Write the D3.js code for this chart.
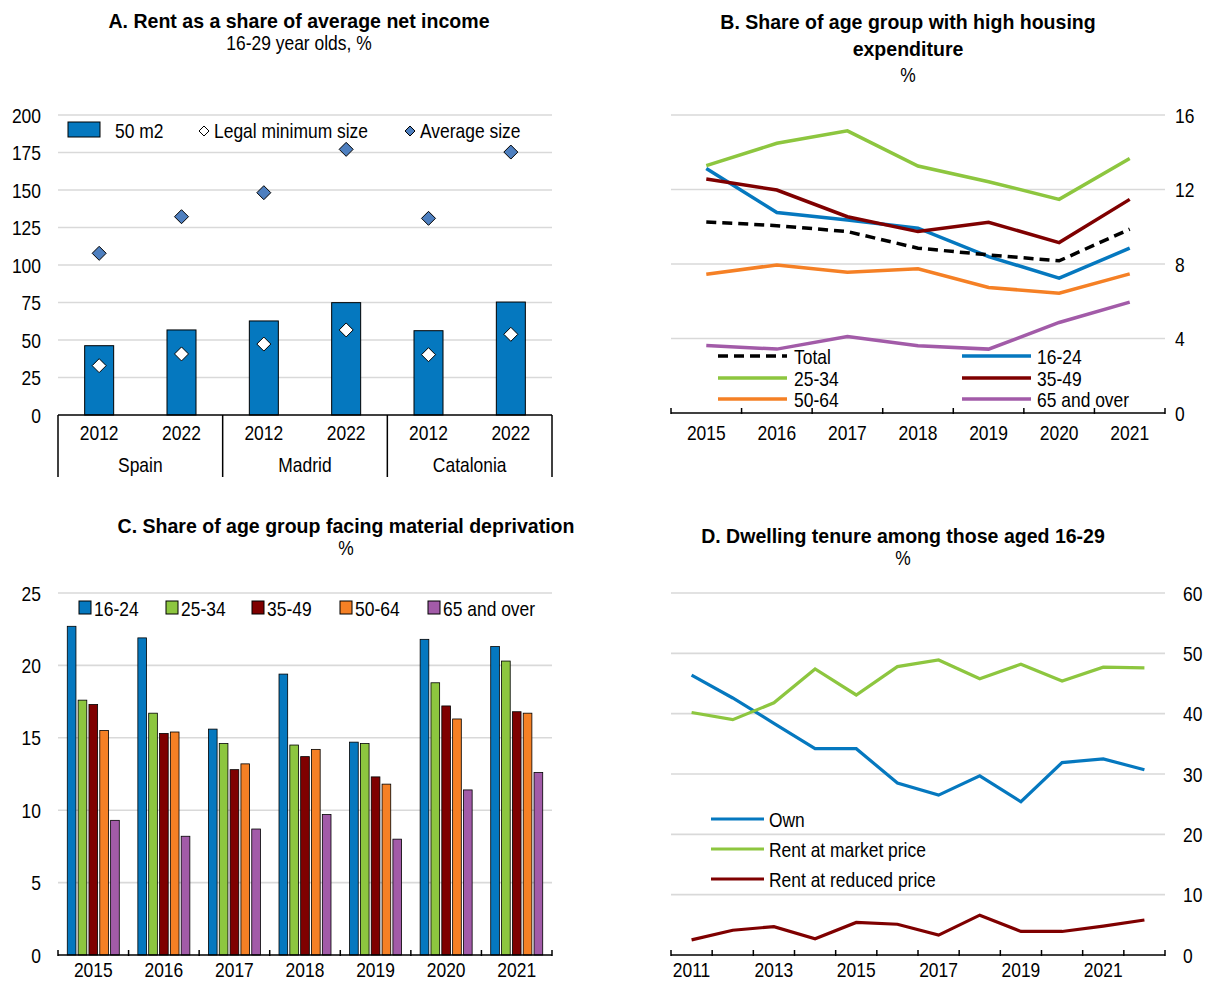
<!DOCTYPE html>
<html>
<head>
<meta charset="utf-8">
<script src="https://cdn.jsdelivr.net/npm/d3@7"></script>
<style>
  body { margin: 0; background: #fff; }
  svg text { font-family: "Liberation Sans Narrow", "Arial Narrow", "Liberation Sans", Arial, sans-serif; fill: #000; }
</style>
</head>
<body>
<svg id="chart" width="1209" height="981"></svg>
<script>
// ---- data ----
// Panel A
var rentRegions = ["Spain", "Madrid", "Catalonia"];
var rentYears = ["2012", "2022"];
var rent50m2 = [46.2, 56.7, 62.7, 74.9, 56.2, 75.3];
var rentLegalMin = [32.9, 40.7, 47.3, 56.7, 40.2, 53.8];
var rentAvgSize = [107.8, 132.2, 148.2, 177.1, 131.1, 175.3];
var rentTicks = [0, 25, 50, 75, 100, 125, 150, 175, 200];

// Panel B
var hxYears = ["2015", "2016", "2017", "2018", "2019", "2020", "2021"];
var hxTotal = [10.26, 10.06, 9.74, 8.85, 8.49, 8.17, 9.87];
var hx1624 = [13.13, 10.76, 10.36, 9.92, 8.40, 7.24, 8.85];
var hx2534 = [13.28, 14.48, 15.15, 13.26, 12.42, 11.47, 13.67];
var hx3549 = [12.56, 11.97, 10.54, 9.74, 10.24, 9.15, 11.47];
var hx5064 = [7.45, 7.95, 7.56, 7.74, 6.74, 6.43, 7.47];
var hx65 = [3.63, 3.43, 4.11, 3.61, 3.43, 4.86, 5.95];
var hxTicks = [0, 4, 8, 12, 16];

// Panel C
var mdYears = ["2015", "2016", "2017", "2018", "2019", "2020", "2021"];
var mdGroups = ["16-24", "25-34", "35-49", "50-64", "65 and over"];
var md1624 = [22.7, 21.9, 15.6, 19.4, 14.7, 21.8, 21.3];
var md2534 = [17.6, 16.7, 14.6, 14.5, 14.6, 18.8, 20.3];
var md3549 = [17.3, 15.3, 12.8, 13.7, 12.3, 17.2, 16.8];
var md5064 = [15.5, 15.4, 13.2, 14.2, 11.8, 16.3, 16.7];
var md65 = [9.3, 8.2, 8.7, 9.7, 8.0, 11.4, 12.6];
var mdTicks = [0, 5, 10, 15, 20, 25];

// Panel D
var tnYears = ["2011", "2012", "2013", "2014", "2015", "2016", "2017", "2018", "2019", "2020", "2021", "2022"];
var tnOwn = [46.4, 42.6, 38.4, 34.2, 34.2, 28.5, 26.5, 29.7, 25.4, 31.9, 32.5, 30.7];
var tnMarket = [40.2, 39.0, 41.8, 47.4, 43.1, 47.8, 48.9, 45.8, 48.2, 45.4, 47.7, 47.6];
var tnReduced = [2.5, 4.1, 4.7, 2.7, 5.4, 5.1, 3.3, 6.6, 3.9, 3.9, 4.8, 5.8];
var tnTicks = [0, 10, 20, 30, 40, 50, 60];

var blue = "#0578BF", green = "#8DC63F", darkred = "#7F0000",
    orange = "#F58025", purple = "#A25BA8", diamondBlue = "#4E7FBF",
    grid = "#d9d9d9";
var fs = 21;

var svg = d3.select("#chart");

function title(x, lines) {
    lines.forEach(function (l) {
        svg.append("text")
            .attr("x", x).attr("y", l.y)
            .attr("text-anchor", "middle")
            .attr("class", l.bold ? "bold" : null)
            .style("font-size", fs + "px")
            .style("font-weight", l.bold ? "bold" : "normal")
            .text(l.t);
    });
}

function gridlines(g, y, ticks, x0, x1) {
    g.selectAll(".grid").data(ticks.slice(1)).enter().append("line")
        .attr("x1", x0).attr("x2", x1)
        .attr("y1", function (d) { return y(d); })
        .attr("y2", function (d) { return y(d); })
        .attr("stroke", grid).attr("stroke-width", 1.6);
}

function yLabels(g, y, ticks, x, anchor) {
    g.selectAll(".ylab").data(ticks).enter().append("text")
        .attr("x", x).attr("y", function (d) { return y(d); })
        .attr("dy", "0.36em")
        .attr("text-anchor", anchor)
        .style("font-size", fs + "px")
        .text(function (d) { return d; });
}

function bandAxis(g, x, y0, x0, x1) {
    g.append("line").attr("x1", x0).attr("x2", x1).attr("y1", y0).attr("y2", y0)
        .attr("stroke", "#000").attr("stroke-width", 1.5);
    var bounds = x.domain().map(function (d) { return x(d); }).concat([x1]);
    g.selectAll(".tk").data(bounds).enter().append("line")
        .attr("x1", function (d) { return d; }).attr("x2", function (d) { return d; })
        .attr("y1", y0 - 5).attr("y2", y0 + 1)
        .attr("stroke", "#000").attr("stroke-width", 1.5);
}

// ---- Panel A ----
(function () {
    var g = svg.append("g");
    var x0 = 58, x1 = 552, yB = 415, yT = 115;
    var cats = [];
    rentRegions.forEach(function (r) { rentYears.forEach(function (yr) { cats.push(r + "|" + yr); }); });
    var x = d3.scaleBand().domain(cats).range([x0, x1]);
    var y = d3.scaleLinear().domain([0, 200]).range([yB, yT]);

    title(299, [{ t: "A. Rent as a share of average net income", y: 28, bold: true },
                { t: "16-29 year olds, %", y: 50 }]);
    gridlines(g, y, rentTicks, x0, x1);
    yLabels(g, y, rentTicks, 41, "end");

    var bw = 29;
    g.selectAll(".bar").data(cats).enter().append("rect")
        .attr("x", function (d) { return x(d) + x.bandwidth() / 2 - bw / 2; })
        .attr("y", function (d, i) { return y(rent50m2[i]); })
        .attr("width", bw)
        .attr("height", function (d, i) { return yB - y(rent50m2[i]); })
        .attr("fill", blue).attr("stroke", "#000").attr("stroke-width", 1);

    var dia = function (r) { return "M0," + (-r) + "L" + r + ",0L0," + r + "L" + (-r) + ",0Z"; };
    g.selectAll(".avg").data(cats).enter().append("path")
        .attr("d", dia(7))
        .attr("transform", function (d, i) { return "translate(" + (x(d) + x.bandwidth() / 2) + "," + y(rentAvgSize[i]) + ")"; })
        .attr("fill", diamondBlue).attr("stroke", "#000").attr("stroke-width", 1);
    g.selectAll(".min").data(cats).enter().append("path")
        .attr("d", dia(7))
        .attr("transform", function (d, i) { return "translate(" + (x(d) + x.bandwidth() / 2) + "," + y(rentLegalMin[i]) + ")"; })
        .attr("fill", "#fff").attr("stroke", "#000").attr("stroke-width", 1);

    // axis box
    g.append("line").attr("x1", x0).attr("x2", x1).attr("y1", yB).attr("y2", yB)
        .attr("stroke", "#000").attr("stroke-width", 1.5);
    var seps = [0, 2, 4].map(function (i) { return x(cats[i]); }).concat([x1]);
    g.selectAll(".sep").data(seps).enter().append("line")
        .attr("x1", function (d) { return d; }).attr("x2", function (d) { return d; })
        .attr("y1", yB).attr("y2", 477)
        .attr("stroke", "#000").attr("stroke-width", 1.5);
    g.selectAll(".yr").data(cats).enter().append("text")
        .attr("x", function (d) { return x(d) + x.bandwidth() / 2; })
        .attr("y", 440).attr("text-anchor", "middle")
        .style("font-size", fs + "px")
        .text(function (d) { return d.split("|")[1]; });
    g.selectAll(".reg").data(rentRegions).enter().append("text")
        .attr("x", function (d, i) { return x(cats[i * 2]) + x.bandwidth(); })
        .attr("y", 472).attr("text-anchor", "middle")
        .style("font-size", fs + "px")
        .text(function (d) { return d; });

    // legend
    var ly = 130;
    g.append("rect").attr("x", 68).attr("y", ly - 8).attr("width", 32).attr("height", 15)
        .attr("fill", blue).attr("stroke", "#000").attr("stroke-width", 1);
    g.append("text").attr("x", 115).attr("y", ly).attr("dy", "0.36em").style("font-size", fs + "px").text("50 m2");
    g.append("path").attr("d", dia(5)).attr("transform", "translate(204," + (ly + 1) + ")")
        .attr("fill", "#fff").attr("stroke", "#000").attr("stroke-width", 1);
    g.append("text").attr("x", 214).attr("y", ly).attr("dy", "0.36em").style("font-size", fs + "px").text("Legal minimum size");
    g.append("path").attr("d", dia(5)).attr("transform", "translate(410," + (ly + 1) + ")")
        .attr("fill", diamondBlue).attr("stroke", "#000").attr("stroke-width", 1);
    g.append("text").attr("x", 420).attr("y", ly).attr("dy", "0.36em").style("font-size", fs + "px").text("Average size");
})();

// ---- Panel B ----
(function () {
    var g = svg.append("g");
    var x0 = 671, x1 = 1165, yB = 413, yT = 115;
    var x = d3.scaleBand().domain(hxYears).range([x0, x1]);
    var y = d3.scaleLinear().domain([0, 16]).range([yB, yT]);

    title(908, [{ t: "B. Share of age group with high housing", y: 29, bold: true },
                { t: "expenditure", y: 56, bold: true },
                { t: "%", y: 82 }]);
    gridlines(g, y, hxTicks, x0, x1);
    yLabels(g, y, hxTicks, 1175, "start");

    var series = [
        { name: "Total", v: hxTotal, c: "#000", dash: "10,6" },
        { name: "16-24", v: hx1624, c: blue },
        { name: "25-34", v: hx2534, c: green },
        { name: "35-49", v: hx3549, c: darkred },
        { name: "50-64", v: hx5064, c: orange },
        { name: "65 and over", v: hx65, c: purple }
    ];
    var line = d3.line()
        .x(function (d, i) { return x(hxYears[i]) + x.bandwidth() / 2; })
        .y(function (d) { return y(d); });
    var draw = [series[5], series[4], series[1], series[3], series[0], series[2]];
    draw.forEach(function (s) {
        g.append("path").datum(s.v).attr("d", line)
            .attr("fill", "none").attr("stroke", s.c).attr("stroke-width", 3.5)
            .attr("stroke-dasharray", s.dash || null);
    });

    bandAxis(g, x, yB, x0, x1);
    g.selectAll(".xl").data(hxYears).enter().append("text")
        .attr("x", function (d) { return x(d) + x.bandwidth() / 2; })
        .attr("y", 440).attr("text-anchor", "middle")
        .style("font-size", fs + "px").text(function (d) { return d; });

    // legend (two columns)
    var rows = [356, 378, 399];
    var cols = [{ lx: 718, tx: 794 }, { lx: 962, tx: 1037 }];
    series.forEach(function (s, i) {
        var c = cols[i % 2], r = rows[Math.floor(i / 2)];
        g.append("line").attr("x1", c.lx).attr("x2", c.lx + 69).attr("y1", r).attr("y2", r)
            .attr("stroke", s.c).attr("stroke-width", 3.5).attr("stroke-dasharray", s.dash || null);
        g.append("text").attr("x", c.tx).attr("y", r).attr("dy", "0.36em")
            .style("font-size", fs + "px").text(s.name);
    });
})();

// ---- Panel C ----
(function () {
    var g = svg.append("g");
    var x0 = 58, x1 = 552, yB = 955, yT = 593;
    var x = d3.scaleBand().domain(mdYears).range([x0, x1]);
    var y = d3.scaleLinear().domain([0, 25]).range([yB, yT]);
    var xs = d3.scaleBand().domain(mdGroups).range([0, 52]).paddingInner(0.2);

    title(346, [{ t: "C. Share of age group facing material deprivation", y: 533, bold: true },
                { t: "%", y: 555 }]);
    gridlines(g, y, mdTicks, x0, x1);
    yLabels(g, y, mdTicks, 41, "end");

    var vals = [md1624, md2534, md3549, md5064, md65];
    var cols = [blue, green, darkred, orange, purple];
    mdGroups.forEach(function (grp, k) {
        g.selectAll(".b" + k).data(mdYears).enter().append("rect")
            .attr("x", function (d) { return x(d) + x.bandwidth() / 2 - 26 + xs(grp); })
            .attr("y", function (d, i) { return y(vals[k][i]); })
            .attr("width", xs.bandwidth())
            .attr("height", function (d, i) { return yB - y(vals[k][i]); })
            .attr("fill", cols[k]).attr("stroke", "#000").attr("stroke-width", 0.8);
    });

    bandAxis(g, x, yB, x0, x1);
    g.selectAll(".xl").data(mdYears).enter().append("text")
        .attr("x", function (d) { return x(d) + x.bandwidth() / 2; })
        .attr("y", 977).attr("text-anchor", "middle")
        .style("font-size", fs + "px").text(function (d) { return d; });

    // legend
    var lx = [79, 166, 252, 340, 428];
    mdGroups.forEach(function (grp, k) {
        g.append("rect").attr("x", lx[k]).attr("y", 601).attr("width", 12).attr("height", 13)
            .attr("fill", cols[k]).attr("stroke", "#000").attr("stroke-width", 1);
        g.append("text").attr("x", lx[k] + 15).attr("y", 608).attr("dy", "0.36em")
            .style("font-size", fs + "px").text(grp);
    });
})();

// ---- Panel D ----
(function () {
    var g = svg.append("g");
    var x0 = 671, x1 = 1165, yB = 955, yT = 593;
    var x = d3.scaleBand().domain(tnYears).range([x0, x1]);
    var y = d3.scaleLinear().domain([0, 60]).range([yB, yT]);

    title(903, [{ t: "D. Dwelling tenure among those aged 16-29", y: 543, bold: true },
                { t: "%", y: 565 }]);
    gridlines(g, y, tnTicks, x0, x1);
    yLabels(g, y, tnTicks, 1183, "start");

    var series = [
        { name: "Own", v: tnOwn, c: blue },
        { name: "Rent at market price", v: tnMarket, c: green },
        { name: "Rent at reduced price", v: tnReduced, c: darkred }
    ];
    var line = d3.line()
        .x(function (d, i) { return x(tnYears[i]) + x.bandwidth() / 2; })
        .y(function (d) { return y(d); });
    series.forEach(function (s) {
        g.append("path").datum(s.v).attr("d", line)
            .attr("fill", "none").attr("stroke", s.c).attr("stroke-width", 3.2);
    });

    bandAxis(g, x, yB, x0, x1);
    g.selectAll(".xl").data(tnYears.filter(function (d, i) { return i % 2 === 0; })).enter().append("text")
        .attr("x", function (d) { return x(d) + x.bandwidth() / 2; })
        .attr("y", 977).attr("text-anchor", "middle")
        .style("font-size", fs + "px").text(function (d) { return d; });

    var rows = [819, 849, 879];
    series.forEach(function (s, i) {
        g.append("line").attr("x1", 711).attr("x2", 764).attr("y1", rows[i]).attr("y2", rows[i])
            .attr("stroke", s.c).attr("stroke-width", 3.2);
        g.append("text").attr("x", 769).attr("y", rows[i]).attr("dy", "0.36em")
            .style("font-size", fs + "px").text(s.name);
    });
})();

// no narrow font installed: squeeze glyphs horizontally to mimic Arial Narrow
svg.selectAll("text").each(function () {
    var w = this.getComputedTextLength();
    var k = d3.select(this).classed("bold") ? 0.93 : 0.83;
    d3.select(this).attr("textLength", (w * k).toFixed(1)).attr("lengthAdjust", "spacingAndGlyphs");
});
</script>
</body>
</html>
